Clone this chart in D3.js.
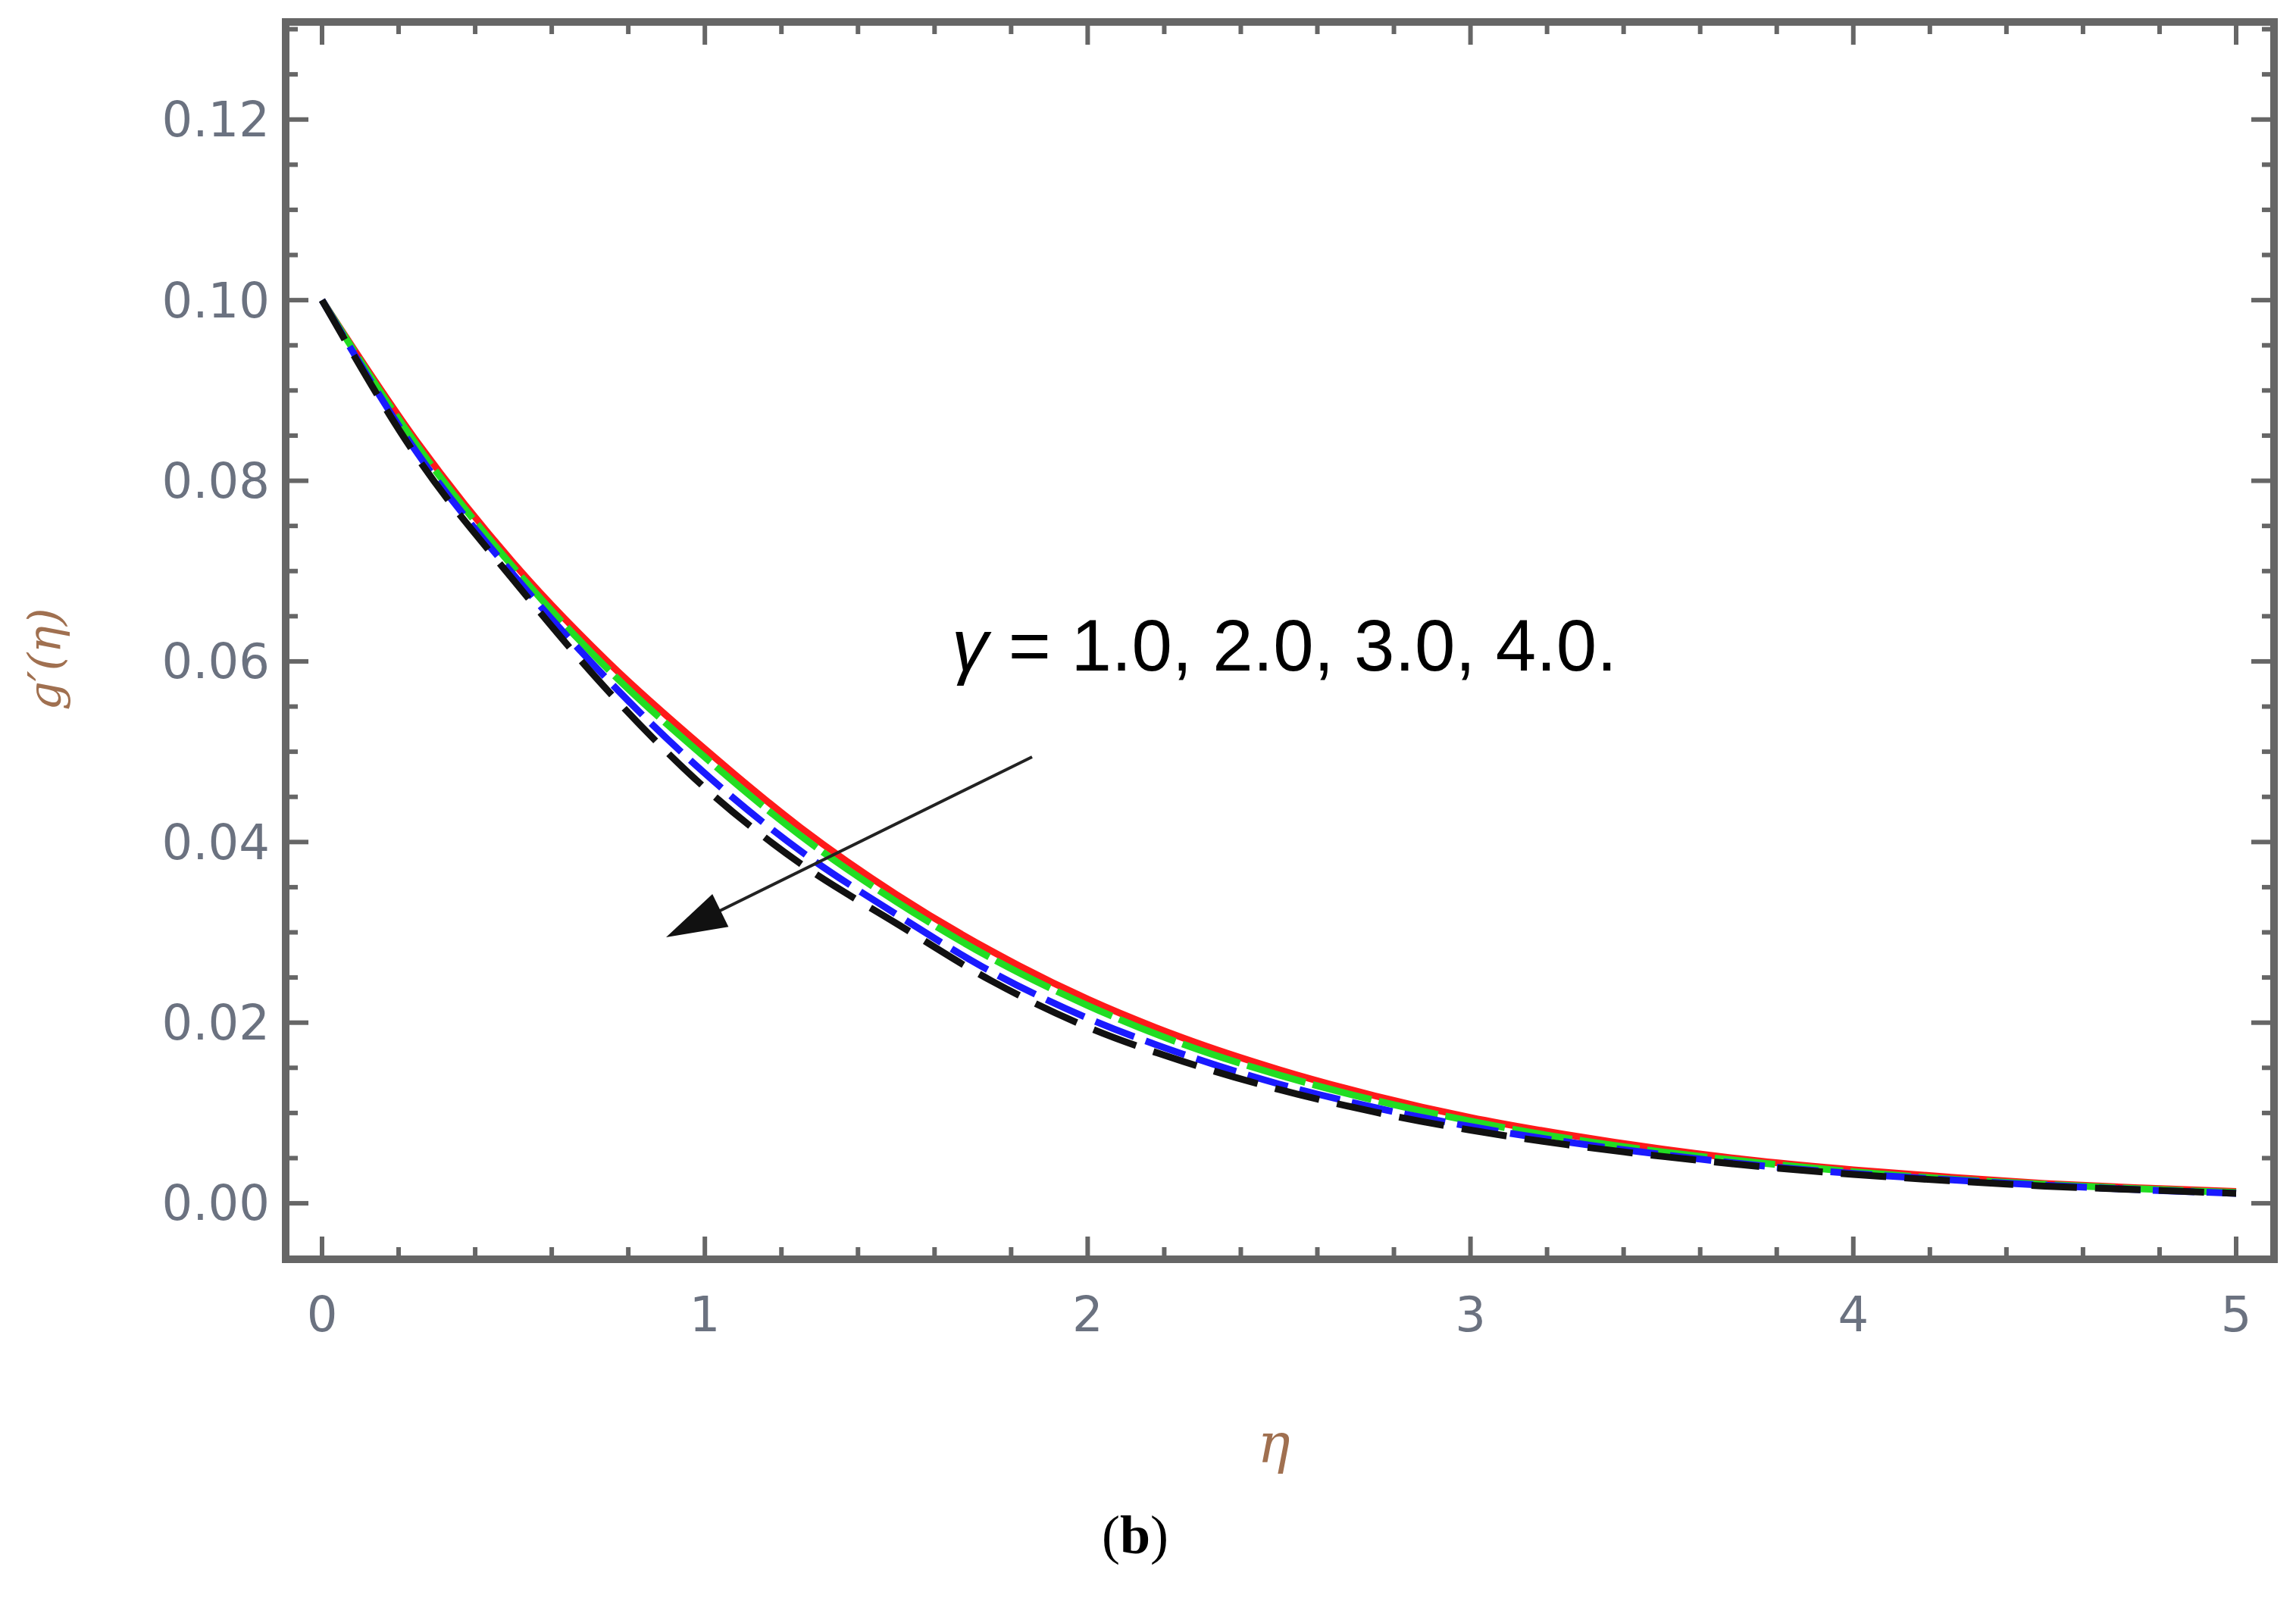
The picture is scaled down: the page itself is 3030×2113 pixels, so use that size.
<!DOCTYPE html>
<html><head><meta charset="utf-8">
<script src="https://cdn.jsdelivr.net/npm/d3@7"></script>
<style>body{margin:0;background:#fff}</style></head>
<body><svg id="c" width="3030" height="2113"></svg>
<script>
const eta = [0,0.25,0.5,0.75,1,1.25,1.5,1.75,2,2.25,2.5,2.75,3,3.25,3.5,3.75,4,4.25,4.5,4.75,5];
const gamma1 = [.100,.0842,.0709,.0598,.0503,.0416,.0342,.0279,.0226,.0183,.0148,.0119,.0095,.0076,.0060,.0047,.0037,.0029,.0022,.0017,.0013];
const gamma2 = [.100,.0838,.0704,.0590,.0494,.0407,.0334,.0271,.0219,.0176,.0142,.0114,.0091,.0072,.0057,.0045,.0035,.0027,.0021,.0016,.0012];
const gamma3 = [.100,.0830,.0696,.0578,.0476,.0390,.0320,.0256,.0205,.0165,.0132,.0106,.0085,.0068,.0054,.0042,.0033,.0026,.0020,.0015,.0011];
const gamma4 = [.100,.0825,.0690,.0566,.0460,.0376,.0310,.0246,.0195,.0157,.0126,.0101,.0081,.0065,.0052,.0041,.0032,.0025,.0019,.0015,.0011];
const xTicks = [0,1,2,3,4,5];
const yTicks = [0,0.02,0.04,0.06,0.08,0.10,0.12];
const yTickLabels = ["0.00","0.02","0.04","0.06","0.08","0.10","0.12"];
const annotation = "γ = 1.0, 2.0, 3.0, 4.0.";

const svg = d3.select("#c");
const L=377,R=3001,T=29,B=1662;
const x = d3.scaleLinear().domain([-0.095,5.099]).range([L,R]);
const y = d3.scaleLinear().domain([-0.0062,0.1308]).range([B,T]);
const axc="#666";
const g = svg.append("g");
const xMinor = d3.range(0,5.01,0.2);
const yMinor = d3.range(0,0.1301,0.005);
xMinor.forEach(v=>{
  const major = Math.abs(v-Math.round(v))<1e-6;
  const len = major?30:16;
  g.append("line").attr("x1",x(v)).attr("x2",x(v)).attr("y1",B).attr("y2",B-len).attr("stroke",axc).attr("stroke-width",6);
  g.append("line").attr("x1",x(v)).attr("x2",x(v)).attr("y1",T).attr("y2",T+len).attr("stroke",axc).attr("stroke-width",6);
});
yMinor.forEach(v=>{
  const major = Math.abs(v/0.02-Math.round(v/0.02))<1e-6;
  const len = major?30:16;
  g.append("line").attr("x1",L).attr("x2",L+len).attr("y1",y(v)).attr("y2",y(v)).attr("stroke",axc).attr("stroke-width",6);
  g.append("line").attr("x1",R).attr("x2",R-len).attr("y1",y(v)).attr("y2",y(v)).attr("stroke",axc).attr("stroke-width",6);
});
g.append("rect").attr("x",L).attr("y",T).attr("width",R-L).attr("height",B-T).attr("fill","none").attr("stroke",axc).attr("stroke-width",10);

const font="'DejaVu Sans', Verdana, sans-serif";
const tc="#6b7280";
svg.selectAll(".yl").data(yTicks).enter().append("text").attr("x",356).attr("y",d=>y(d)).attr("dy","0.35em")
  .attr("text-anchor","end").attr("font-family",font).attr("font-size",64).attr("fill",tc).text((d,i)=>yTickLabels[i]);
svg.selectAll(".xl").data(xTicks).enter().append("text").attr("x",d=>x(d)).attr("y",1735).attr("dy","0.35em")
  .attr("text-anchor","middle").attr("font-family",font).attr("font-size",64).attr("fill",tc).text(d=>d);

svg.append("text").attr("x",1681).attr("y",1905).attr("dy","0.35em").attr("text-anchor","middle")
  .attr("font-family","'DejaVu Serif', serif").attr("font-style","italic").attr("font-size",72).attr("fill","#a07050").text("η");
svg.append("text").attr("transform","translate(80,870) rotate(-90)").attr("text-anchor","middle")
  .attr("font-family","'DejaVu Serif', serif").attr("font-style","italic").attr("font-size",60).attr("fill","#a07050").text("g′(η)");
svg.append("text").attr("x",1498).attr("y",2025).attr("dy","0.35em").attr("text-anchor","middle")
  .attr("font-family","'Liberation Serif', serif").attr("font-size",72).attr("fill","#000")
  .html("(<tspan font-weight='bold'>b</tspan>)");

const series=[
  {v:gamma1,c:"#ff1a1a",d:null},
  {v:gamma2,c:"#22dd22",d:"80,10"},
  {v:gamma3,c:"#1a1aff",d:"55,16"},
  {v:gamma4,c:"#111",d:"60,24"}];
const line=d3.line().x((d,i)=>x(eta[i])).y(d=>y(d)).curve(d3.curveMonotoneX);
series.forEach(s=>{
  svg.append("path").attr("d",line(s.v)).attr("fill","none").attr("stroke",s.c).attr("stroke-width",9)
    .attr("stroke-dasharray",s.d);
});

svg.append("text").attr("x",1256).attr("y",885).attr("font-family","'Liberation Sans', Arial, sans-serif")
  .attr("font-size",96).attr("fill","#000").html("<tspan font-style='italic'>γ</tspan>"+annotation.slice(1));
const ax1=1362,ay1=999,ax2=879,ay2=1237;
svg.append("line").attr("x1",ax1).attr("y1",ay1).attr("x2",ax2+(ax1-ax2)*0.08).attr("y2",ay2+(ay1-ay2)*0.08).attr("stroke","#222").attr("stroke-width",4);
const ang=Math.atan2(ay2-ay1,ax2-ax1);
const hl=80,hw=24;
const bx=ax2-hl*Math.cos(ang), by=ay2-hl*Math.sin(ang);
const px=-Math.sin(ang)*hw, py=Math.cos(ang)*hw;
svg.append("path").attr("d",`M${ax2},${ay2}L${bx+px},${by+py}L${bx-px},${by-py}Z`).attr("fill","#111");
</script></body></html>
